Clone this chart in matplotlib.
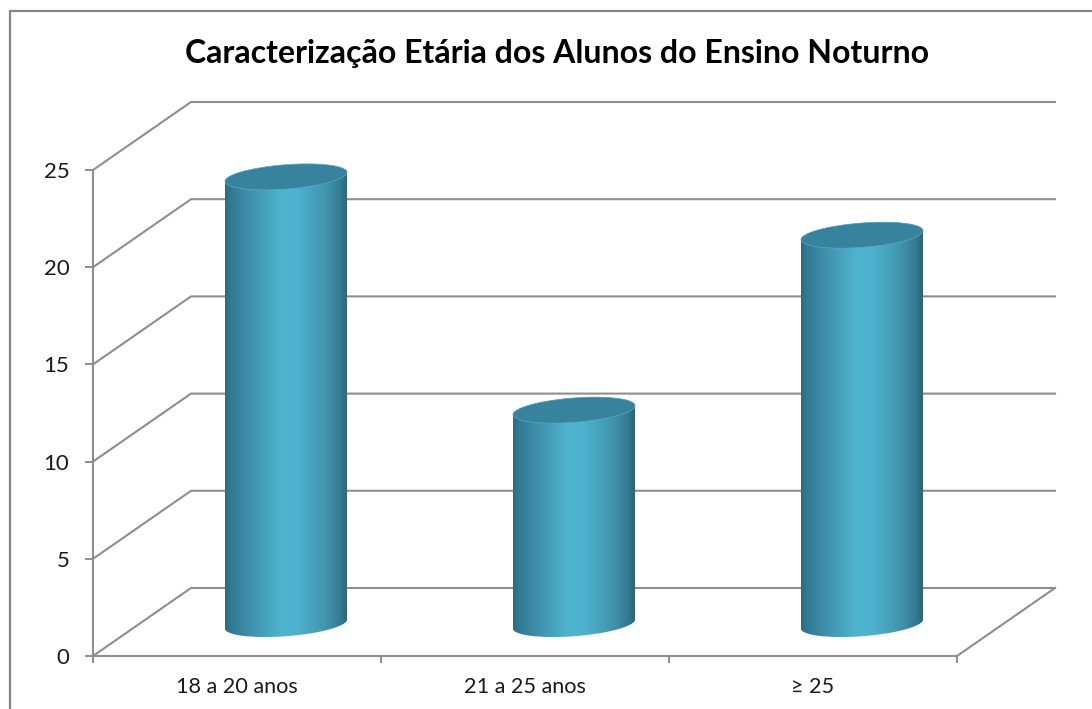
import numpy as np
import matplotlib
matplotlib.use("Agg")
import matplotlib.pyplot as plt
from matplotlib.colors import LinearSegmentedColormap
from matplotlib.lines import Line2D
from matplotlib.patches import Polygon

title = "Caracterização Etária dos Alunos do Ensino Noturno"
categories = ["18 a 20 anos", "21 a 25 anos", "≥ 25"]
values = [23, 11, 20]
y_ticks = [0, 5, 10, 15, 20, 25]

W, H = 1092, 709
plt.rcParams["font.family"] = ["Lato", "DejaVu Sans"]
fig = plt.figure(figsize=(W / 100, H / 100), dpi=100, facecolor="white")

GREY = "#8e8e8e"
L, R, T, B = 93, 957, 170, 656
ax = fig.add_axes([L / W, 1 - B / H, (R - L) / W, (B - T) / H])
ax.set_xlim(0, 3)
ax.set_ylim(0, 25)
ax.patch.set_alpha(0)

px_x = 3 / (R - L)
px_y = 25 / (B - T)
DX, DY = 98 * px_x, 68 * px_y   # chart depth, in data units

# outer chart frame: only the top and left edges are inside the picture
fig.add_artist(Line2D([9.5 / W, 9.5 / W, 1], [0, 1 - 11 / H, 1 - 11 / H], transform=fig.transFigure,
                      color="#858585", linewidth=1.6, solid_joinstyle="miter"))

for s in ["top", "right"]:
    ax.spines[s].set_visible(False)
for s in ["left", "bottom"]:
    ax.spines[s].set_color(GREY)
    ax.spines[s].set_linewidth(1.5)

ax.set_yticks(y_ticks)
ax.set_xticks(np.arange(len(categories) + 1))
ax.set_xticklabels([])
ax.set_xticks(np.arange(len(categories)) + 0.5, minor=True)
ax.set_xticklabels(categories, minor=True, fontsize=15.6, color="#1a1a1a")
ax.tick_params(axis="x", which="major", length=5, width=1.4, color=GREY)
ax.tick_params(axis="x", which="minor", length=0, pad=15)
ax.tick_params(axis="y", length=6, width=1.4, color=GREY, labelsize=16, labelcolor="#1a1a1a", pad=11)

# walls and floor
for v in y_ticks:
    ax.plot([0, DX, 3 + DX], [v, v + DY, v + DY], color=GREY, lw=1.5, clip_on=False, zorder=1,
            solid_joinstyle="miter")
ax.plot([3, 3 + DX], [0, DY], color=GREY, lw=1.5, clip_on=False, zorder=1)

cmap = LinearSegmentedColormap.from_list("cyl", [
    (0.00, "#2d6b81"), (0.05, "#337a93"), (0.22, "#4193ae"), (0.46, "#4eb5d0"),
    (0.60, "#4cb1cc"), (0.82, "#4194ae"), (0.95, "#34788f"), (1.00, "#2c6377")])
grad = np.linspace(0, 1, 256).reshape(1, -1)

half_w = 61 * px_x
shear = 4.5 * px_y
minor = 12.2 * px_y
base = DY / 2 - 2 * px_y
t = np.linspace(0, 2 * np.pi, 181)

for i, val in enumerate(values):
    cx = i + 0.5 + DX / 2
    y0 = base
    y1 = y0 + val
    tb = np.linspace(np.pi, 2 * np.pi, 91)
    bx = cx + half_w * np.cos(tb)
    by = y0 + shear * np.cos(tb) + minor * np.sin(tb)
    tt = np.linspace(0, np.pi, 91)
    ux = cx + half_w * np.cos(tt)
    uy = y1 + shear * np.cos(tt) + minor * np.sin(tt)
    body = Polygon(np.r_[np.c_[bx, by], np.c_[ux, uy]], closed=True, transform=ax.transData,
                   facecolor="none", edgecolor="none")
    ax.add_patch(body)
    body.set_clip_on(False)
    im = ax.imshow(grad, extent=[cx - half_w, cx + half_w, y0 - minor - shear, y1 + minor + shear],
                   aspect="auto", cmap=cmap, zorder=3, interpolation="bilinear")
    im.set_clip_path(body)
    ax.fill(cx + half_w * np.cos(t), y1 + shear * np.cos(t) + minor * np.sin(t),
            facecolor="#37829c", edgecolor="#5fa9bf", linewidth=0.5, zorder=4, clip_on=False)

ax.set_xlim(0, 3)
ax.set_ylim(0, 25)

fig.text(557 / W, 1 - 54 / H, title, ha="center", va="center", fontsize=23, fontweight="bold", color="black")

fig.savefig("out.png", dpi=100, facecolor="white")
